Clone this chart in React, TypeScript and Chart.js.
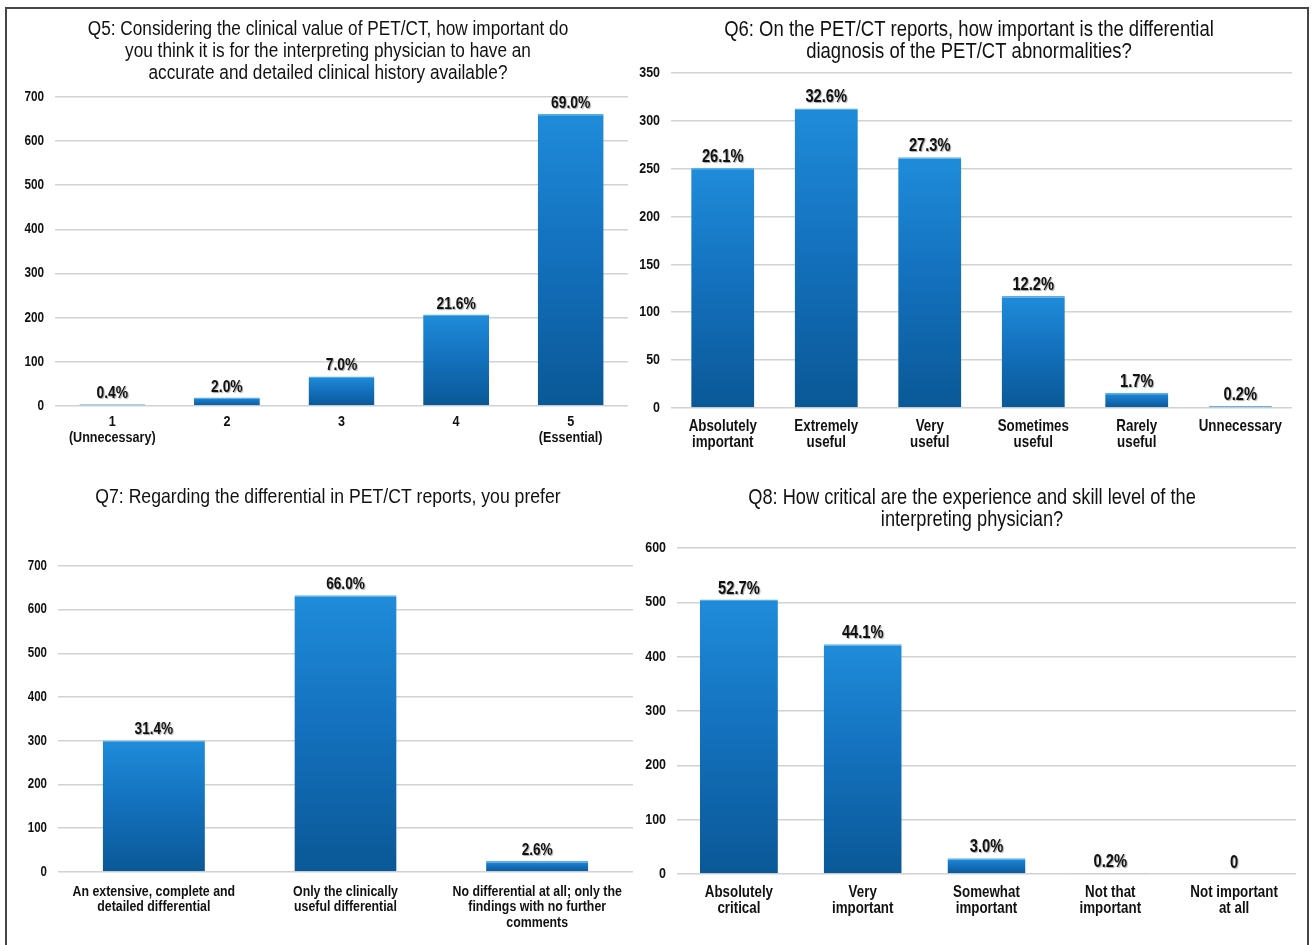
import React, { useEffect, useRef } from "react";
import { Chart, registerables } from "chart.js";

Chart.register(...registerables);

const FONT = '"Liberation Sans", Arial, sans-serif';
// Horizontal squeeze applied to every glyph run, giving a narrow face
const TEXT_SQUEEZE = 0.84;

// ---- Q5 ----
const q5Title = [
  "Q5: Considering the clinical value of PET/CT, how important do",
  "you think it is for the interpreting physician to have an",
  "accurate and detailed clinical history available?",
];
const q5Categories = [["1", "(Unnecessary)"], "2", "3", "4", ["5", "(Essential)"]];
const q5Counts = [4, 19, 67, 207, 662];
const q5Percents = ["0.4%", "2.0%", "7.0%", "21.6%", "69.0%"];
const q5Max = 700;
const q5Step = 100;

// ---- Q6 ----
const q6Title = [
  "Q6: On the PET/CT reports, how important is the differential",
  "diagnosis of the PET/CT abnormalities?",
];
const q6Categories = [
  ["Absolutely", "important"],
  ["Extremely", "useful"],
  ["Very", "useful"],
  ["Sometimes", "useful"],
  ["Rarely", "useful"],
  "Unnecessary",
];
const q6Counts = [251, 313, 262, 117, 16, 2];
const q6Percents = ["26.1%", "32.6%", "27.3%", "12.2%", "1.7%", "0.2%"];
const q6Max = 350;
const q6Step = 50;

// ---- Q7 ----
const q7Title = ["Q7: Regarding the differential in PET/CT reports, you prefer"];
const q7Categories = [
  ["An extensive, complete and", "detailed differential"],
  ["Only the clinically", "useful differential"],
  ["No differential at all; only the", "findings with no further", "comments"],
];
const q7Counts = [301, 633, 25];
const q7Percents = ["31.4%", "66.0%", "2.6%"];
const q7Max = 700;
const q7Step = 100;

// ---- Q8 ----
const q8Title = [
  "Q8: How critical are the experience and skill level of the",
  "interpreting physician?",
];
const q8Categories = [
  ["Absolutely", "critical"],
  ["Very", "important"],
  ["Somewhat", "important"],
  ["Not that", "important"],
  ["Not important", "at all"],
];
const q8Counts = [505, 423, 29, 2, 0];
const q8Percents = ["52.7%", "44.1%", "3.0%", "0.2%", "0"];
const q8Max = 600;
const q8Step = 100;

// Page placement of each panel: plot left/right/top/bottom, title centre and first-line y
type Frame = {
  plotLeft: number;
  plotRight: number;
  plotTop: number;
  plotBottom: number;
  titleX: number;
  titleY: number;
  canvasTop: number;
  canvasBottom: number;
  xPad: number;
  barPct: number;
  titleSize: number;
  textScale: number;
};

type Panel = {
  title: string[];
  categories: (string | string[])[];
  counts: number[];
  percents: string[];
  max: number;
  step: number;
  frame: Frame;
};

const panels: Panel[] = [
  {
    title: q5Title, categories: q5Categories, counts: q5Counts, percents: q5Percents,
    max: q5Max, step: q5Step,
    frame: { plotLeft: 55, plotRight: 628, plotTop: 97, plotBottom: 406, titleX: 328, titleY: 29, canvasTop: 10, canvasBottom: 452, xPad: 8, barPct: 0.575, titleSize: 20.5, textScale: 1 },
  },
  {
    title: q6Title, categories: q6Categories, counts: q6Counts, percents: q6Percents,
    max: q6Max, step: q6Step,
    frame: { plotLeft: 671, plotRight: 1292, plotTop: 73, plotBottom: 408, titleX: 969, titleY: 30, canvasTop: 10, canvasBottom: 452, xPad: 10, barPct: 0.61, titleSize: 22, textScale: 1.06 },
  },
  {
    title: q7Title, categories: q7Categories, counts: q7Counts, percents: q7Percents,
    max: q7Max, step: q7Step,
    frame: { plotLeft: 58, plotRight: 633, plotTop: 566, plotBottom: 872, titleX: 328, titleY: 497, canvasTop: 462, canvasBottom: 945, xPad: 12, barPct: 0.533, titleSize: 21, textScale: 0.98 },
  },
  {
    title: q8Title, categories: q8Categories, counts: q8Counts, percents: q8Percents,
    max: q8Max, step: q8Step,
    frame: { plotLeft: 677, plotRight: 1296, plotTop: 548, plotBottom: 874, titleX: 972, titleY: 498, canvasTop: 462, canvasBottom: 945, xPad: 10, barPct: 0.63, titleSize: 21.7, textScale: 1.06 },
  },
];

const TITLE_LINE = 22;
const SIDE_PAD = 22;
const RIGHT_PAD = 10;

// Canvas box and axis sizes derived from a frame
function geometry(f: Frame, lines: number) {
  // the title is centred between the y-axis box's left edge and the plot's right edge
  const yWidth = f.plotLeft + f.plotRight - 2 * f.titleX;
  const left = f.plotLeft - yWidth - SIDE_PAD;
  const width = f.plotRight + RIGHT_PAD - left;
  const height = f.canvasBottom - f.canvasTop;
  const titleTop = f.titleY - f.canvasTop - TITLE_LINE / 2;
  const titleBottom = f.plotTop - f.canvasTop - titleTop - lines * TITLE_LINE;
  const xHeight = f.canvasBottom - f.plotBottom;
  return { yWidth, left, width, height, titleTop, titleBottom, xHeight };
}

// Draw and measure all text on this context with a horizontal squeeze
function squeezeText(ctx: CanvasRenderingContext2D, sx: number) {
  const fill = ctx.fillText.bind(ctx);
  const measure = ctx.measureText.bind(ctx);
  (ctx as any).fillText = (text: string, x: number, y: number, maxWidth?: number) => {
    ctx.save();
    ctx.translate(x, y);
    ctx.scale(sx, 1);
    if (maxWidth !== undefined && maxWidth !== null) fill(text, 0, 0, maxWidth / sx);
    else fill(text, 0, 0);
    ctx.restore();
  };
  (ctx as any).measureText = (text: string) => {
    const m = measure(text);
    return {
      width: m.width * sx,
      actualBoundingBoxAscent: m.actualBoundingBoxAscent,
      actualBoundingBoxDescent: m.actualBoundingBoxDescent,
      actualBoundingBoxLeft: m.actualBoundingBoxLeft * sx,
      actualBoundingBoxRight: m.actualBoundingBoxRight * sx,
    };
  };
}

// Let the y tick labels use the free margin left of the narrow y-axis box
const widenLabelArea = {
  id: "widenLabelArea",
  afterLayout(chart: any) {
    const y = chart.scales.y;
    if (y) y.left = 0;
  },
};

// Percentage labels printed above each bar
const valueLabels = {
  id: "valueLabels",
  afterDatasetsDraw(chart: any, _args: any, opts: any) {
    const { ctx } = chart;
    const meta = chart.getDatasetMeta(0);
    const texts: string[] = opts.texts || [];
    ctx.save();
    ctx.font = `bold ${opts.size}px ${FONT}`;
    ctx.textAlign = "center";
    ctx.textBaseline = "alphabetic";
    ctx.fillStyle = "#111111";
    ctx.shadowColor = "rgba(0,0,0,0.35)";
    ctx.shadowOffsetX = 1;
    ctx.shadowOffsetY = 1;
    ctx.shadowBlur = 1;
    meta.data.forEach((bar: any, i: number) => {
      const { x, y } = bar.getProps(["x", "y"], true);
      ctx.fillText(texts[i], x, y - 6);
    });
    ctx.restore();
  },
};

// Vertical blue gradient for each bar, bright at the top and deep at the base
function barGradient(c: any) {
  const chart = c.chart;
  const yScale = chart.scales?.y;
  if (!yScale || c.raw === undefined) return "#1570bb";
  const top = yScale.getPixelForValue(c.raw);
  const base = yScale.getPixelForValue(0);
  if (!isFinite(top) || !isFinite(base) || base - top < 0.5) return "#2a8ed8";
  const g = chart.ctx.createLinearGradient(0, top, 0, base);
  g.addColorStop(0, "#1f8cda");
  g.addColorStop(0.45, "#1472bf");
  g.addColorStop(1, "#0a5896");
  return g;
}

function BarPanel({ p }: { p: Panel }) {
  const ref = useRef<HTMLCanvasElement>(null);
  const g = geometry(p.frame, p.title.length);
  const k = p.frame.textScale;
  useEffect(() => {
    const canvas = ref.current as HTMLCanvasElement;
    const ctx = canvas.getContext("2d") as CanvasRenderingContext2D;
    squeezeText(ctx, TEXT_SQUEEZE);
    const chart = new Chart(ctx, {
      type: "bar",
      data: {
        labels: p.categories as any,
        datasets: [
          {
            data: p.counts,
            backgroundColor: barGradient as any,
            borderColor: "#5aaee8",
            borderWidth: { top: 1.5, right: 0, bottom: 0, left: 0 } as any,
            barPercentage: p.frame.barPct,
            categoryPercentage: 1,
          },
        ],
      },
      plugins: [widenLabelArea as any, valueLabels as any],
      options: {
        animation: false,
        responsive: false,
        devicePixelRatio: 1,
        layout: { padding: { top: 0, right: RIGHT_PAD, bottom: 0, left: SIDE_PAD } },
        plugins: {
          legend: { display: false },
          tooltip: { enabled: false },
          title: {
            display: true,
            text: p.title,
            color: "#111111",
            fullSize: true,
            font: { family: FONT, size: p.frame.titleSize, weight: "normal", lineHeight: `${TITLE_LINE}px` } as any,
            padding: { top: g.titleTop, bottom: g.titleBottom },
          },
          valueLabels: { texts: p.percents, size: 16.5 * k },
        } as any,
        scales: {
          x: {
            grid: { display: false, drawTicks: false },
            border: { display: false },
            ticks: {
              color: "#111111",
              padding: p.frame.xPad,
              maxRotation: 0,
              autoSkip: false,
              font: { family: FONT, size: 15 * k, weight: "bold", lineHeight: 1.05 } as any,
            },
            afterFit: (s: any) => {
              s.height = g.xHeight;
            },
          },
          y: {
            min: 0,
            max: p.max,
            ticks: {
              stepSize: p.step,
              color: "#111111",
              padding: 11,
              font: { family: FONT, size: 14 * k, weight: "bold" } as any,
            },
            grid: { color: "#d2d2d2", lineWidth: 1.6, drawTicks: false },
            border: { display: false },
            afterFit: (s: any) => {
              s.width = g.yWidth;
            },
          },
        },
      },
    });
    return () => chart.destroy();
  }, [p]);
  return (
    <canvas
      ref={ref}
      width={g.width}
      height={g.height}
      style={{ position: "absolute", left: g.left, top: p.frame.canvasTop, width: g.width, height: g.height }}
    />
  );
}

export default function App() {
  return (
    <div
      style={{
        position: "fixed",
        left: 0,
        top: 0,
        width: 1314,
        height: 945,
        background: "#ffffff",
        overflow: "hidden",
      }}
    >
      <div
        style={{
          position: "absolute",
          left: 5,
          top: 7,
          width: 1304,
          height: 960,
          boxSizing: "border-box",
          border: "2px solid #454545",
          borderBottom: "none",
        }}
      />
      {panels.map((p, i) => (
        <BarPanel key={i} p={p} />
      ))}
    </div>
  );
}
